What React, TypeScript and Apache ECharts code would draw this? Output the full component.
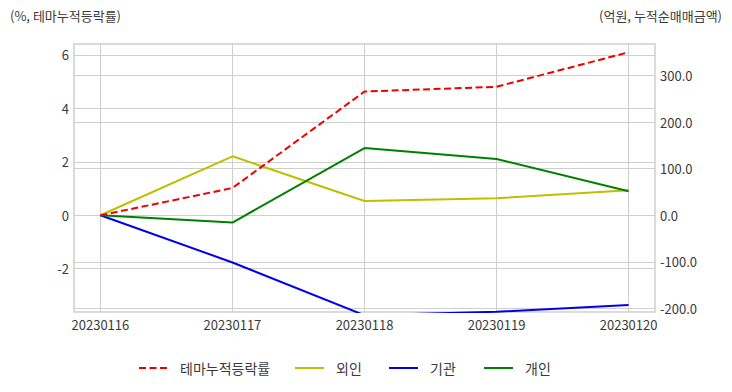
import React, { useEffect, useRef } from "react";
import * as echarts from "echarts";

const dates = ["20230116", "20230117", "20230118", "20230119", "20230120"];
const themeRate = [0, 1.02, 4.63, 4.81, 6.1];
const foreign = [0, 126.6, 30.7, 36.5, 53.6];
const institution = [0, -101.5, -215, -207.5, -193];
const individual = [0, -15.7, 144.4, 120.8, 51.5];
const leftTicks = [-2, 0, 2, 4, 6];
const rightTicks = [-200, -100, 0, 100, 200, 300];
const xTicks = [0, 1, 2, 3, 4];

const FONT = "'Noto Sans CJK KR', 'Noto Sans', sans-serif";
const TXT = "#3a3a3a";
const GRIDC = "#cfcfcf";

export default function App() {
  const ref = useRef<HTMLDivElement>(null);
  useEffect(() => {
    if (!ref.current) return;
    const chart = echarts.init(ref.current, undefined, { renderer: "svg" });
    const pts = (arr: number[]) => arr.map((v, i) => [i, v]);
    const legendBase = (name: string, left: number) => ({
      data: [name],
      left,
      top: 361,
      itemWidth: 29,
      itemHeight: 14,
      itemGap: 0,
      padding: 0,
      itemStyle: { opacity: 0 },
      textStyle: { fontSize: 14, color: TXT, fontFamily: FONT, padding: [0, 0, 0, 7] },
    });
    chart.setOption({
      animation: false,
      textStyle: { fontFamily: FONT },
      title: [
        { text: "(%, 테마누적등락률)", left: 10, top: 9, padding: 0, textStyle: { fontSize: 13, fontWeight: "normal", color: TXT, fontFamily: FONT } },
        { text: "(억원, 누적순매매금액)", right: 10, top: 9, padding: 0, textStyle: { fontSize: 13, fontWeight: "normal", color: TXT, fontFamily: FONT } },
      ],
      legend: [
        legendBase("테마누적등락률", 138),
        legendBase("외인", 294),
        legendBase("기관", 388),
        legendBase("개인", 483),
      ],
      grid: {
        left: 74,
        right: 77,
        top: 44,
        bottom: 80,
        show: true,
        borderColor: GRIDC,
        borderWidth: 1.5,
        backgroundColor: "transparent",
      },
      xAxis: {
        type: "value",
        min: -0.2,
        max: 4.2,
        axisLine: { show: false },
        axisTick: { show: false, customValues: xTicks },
        axisLabel: {
          customValues: xTicks,
          formatter: (v: number) => dates[Math.round(v)] ?? "",
          fontSize: 13,
          color: TXT,
          margin: 6,
          fontFamily: FONT,
        },
        splitLine: { show: true, lineStyle: { color: GRIDC, width: 1 } },
      },
      yAxis: [
        {
          type: "value",
          min: -3.62,
          max: 6.41,
          axisLine: { show: false },
          axisTick: { show: false, customValues: leftTicks },
          axisLabel: { customValues: leftTicks, fontSize: 13, color: TXT, margin: 5, fontFamily: FONT, formatter: (v: number) => String(v) },
          splitLine: { show: true, lineStyle: { color: GRIDC, width: 1 } },
        },
        {
          type: "value",
          min: -208,
          max: 368,
          axisLine: { show: false },
          axisTick: { show: false, customValues: rightTicks },
          axisLabel: { customValues: rightTicks, fontSize: 13, color: TXT, margin: 5, fontFamily: FONT, formatter: (v: number) => v.toFixed(1) },
          splitLine: { show: true, lineStyle: { color: GRIDC, width: 1 } },
        },
      ],
      series: [
        {
          name: "테마누적등락률",
          type: "line",
          yAxisIndex: 0,
          data: pts(themeRate),
          showSymbol: false,
          symbol: "none",
          color: "#f00000",
          lineStyle: { color: "#f00000", width: 2, type: [7, 3.5] },
          z: 5,
        },
        {
          name: "외인",
          type: "line",
          yAxisIndex: 1,
          data: pts(foreign),
          showSymbol: false,
          symbol: "none",
          color: "#bfbf00",
          lineStyle: { color: "#bfbf00", width: 2 },
        },
        {
          name: "기관",
          type: "line",
          yAxisIndex: 1,
          data: pts(institution),
          showSymbol: false,
          symbol: "none",
          color: "#0000ee",
          lineStyle: { color: "#0000ee", width: 2 },
          clip: true,
        },
        {
          name: "개인",
          type: "line",
          yAxisIndex: 1,
          data: pts(individual),
          showSymbol: false,
          symbol: "none",
          color: "#008000",
          lineStyle: { color: "#008000", width: 2 },
        },
      ],
    });
    return () => chart.dispose();
  }, []);
  return <div ref={ref} style={{ width: 732, height: 392, margin: -8 }} />;
}
